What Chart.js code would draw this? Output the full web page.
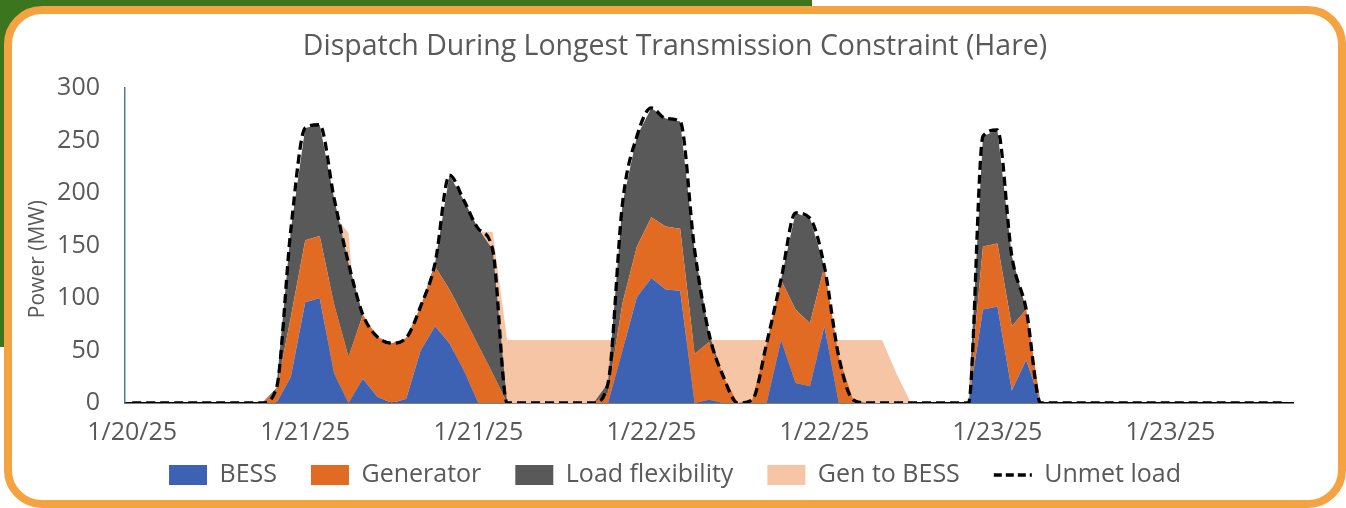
<!DOCTYPE html>
<html>
<head>
<meta charset="utf-8">
<title>Dispatch During Longest Transmission Constraint (Hare)</title>
<script src="https://cdn.jsdelivr.net/npm/chart.js@4.4.1/dist/chart.umd.min.js"></script>
<style>
    html, body { margin: 0; padding: 0; background: #fff; overflow: hidden; }
    body { width: 1346px; height: 508px; position: relative; }
    #green { position: absolute; left: 0; top: 0; width: 812px; height: 347px; background: #3b761f; }
    #slash { position: absolute; left: 604px; top: 6px; width: 74px; height: 5px; background: #f4a340; transform: rotate(16deg); transform-origin: 0 0; }
    #frame { position: absolute; left: 4px; top: 6px; width: 1342px; height: 502px; box-sizing: border-box;
             border: 8px solid #f4a340; border-radius: 38px; background: #fff; }
    #wrap { position: absolute; left: 0; top: 0; width: 1346px; height: 508px; }
</style>
</head>
<body>
<div id="green"></div>
<div id="slash"></div>
<div id="frame"></div>
<div id="wrap"><canvas id="dispatchChart"></canvas></div>

<script>
// hourly steps along the constraint window, label shown every 12 steps
const hours = Array.from({ length: 81 }, (_, i) => i);
const tickLabels = ['1/20/25', '1/21/25', '1/21/25', '1/22/25', '1/22/25', '1/23/25', '1/23/25'];
const tickEvery = 12;

const bess = [
    0, 0, 0, 0, 0, 0, 0, 0, 0, 0,
    0, 25, 96, 100, 28, 0, 23, 6, 0, 4,
    50, 73, 57, 31, 0, 0, 0, 0, 0, 0,
    0, 0, 0, 0, 50, 101, 119, 108, 107, 0,
    3, 0, 0, 0, 0, 60, 19, 16, 73, 0,
    0, 0, 0, 0, 0, 0, 0, 0, 0, 89,
    92, 12, 41, 0, 0, 0, 0, 0, 0, 0,
    0, 0, 0, 0, 0, 0, 0, 0, 0, 0,
    0
];
const generator = [
    0, 0, 0, 0, 0, 0, 0, 0, 0, 0,
    12, 57, 59, 59, 66, 44, 61, 57, 57, 58,
    42, 57, 51, 51, 55, 28, 0, 0, 0, 0,
    0, 0, 0, 10, 45, 48, 58, 60, 59, 47,
    55, 25, 0, 3, 57, 57, 70, 60, 57, 44,
    3, 0, 0, 0, 0, 0, 0, 0, 0, 60,
    60, 61, 48, 0, 0, 0, 0, 0, 0, 0,
    0, 0, 0, 0, 0, 0, 0, 0, 0, 0,
    0
];
const loadFlex = [
    0, 0, 0, 0, 0, 0, 0, 0, 0, 0,
    2, 83, 107, 106, 101, 89, 0, 0, 0, 0,
    0, 3, 109, 111, 111, 118, 0, 0, 0, 0,
    0, 0, 0, 9, 95, 105, 104, 103, 102, 99,
    8, 0, 0, 0, 0, 1, 92, 100, 0, 0,
    0, 0, 0, 0, 0, 0, 0, 0, 0, 105,
    108, 67, 0, 0, 0, 0, 0, 0, 0, 0,
    0, 0, 0, 0, 0, 0, 0, 0, 0, 0,
    0
];
const genToBess = [
    0, 0, 0, 0, 0, 0, 0, 0, 0, 0,
    0, 0, 0, 0, 179, 162, 0, 0, 0, 0,
    0, 0, 0, 163, 163, 163, 60, 60, 60, 60,
    60, 60, 60, 60, 60, 60, 60, 60, 60, 60,
    60, 60, 60, 60, 60, 60, 60, 60, 60, 60,
    60, 60, 60, 28, 0, 0, 0, 0, 0, 0,
    0, 0, 0, 0, 0, 0, 0, 0, 0, 0,
    0, 0, 0, 0, 0, 0, 0, 0, 0, 0,
    0
];
const unmetLoad = [
    0, 0, 0, 0, 0, 0, 0, 0, 0, 0,
    14, 165, 262, 265, 195, 133, 84, 63, 57, 62,
    92, 133, 217, 193, 166, 146, 0, 0, 0, 0,
    0, 0, 0, 19, 190, 254, 281, 271, 268, 146,
    66, 25, 0, 3, 57, 118, 181, 176, 130, 44,
    3, 0, 0, 0, 0, 0, 0, 0, 0, 254,
    260, 140, 89, 0, 0, 0, 0, 0, 0, 0,
    0, 0, 0, 0, 0, 0, 0, 0, 0, 0,
    0
];

Chart.defaults.font.family = "'Open Sans', sans-serif";
Chart.defaults.color = '#595959';

// order sets both stacking (low first) and paint order (high painted first)
function area(label, data, color, fill, stack, order) {
    return { label, data, backgroundColor: color, borderColor: color, borderWidth: 0,
             fill, stack, order, pointRadius: 0, pointHoverRadius: 0, tension: 0, pointStyle: 'rect' };
}

const ctx = document.getElementById('dispatchChart').getContext('2d');
new Chart(ctx, {
    type: 'line',
    data: {
        labels: hours,
        datasets: [
            area('BESS', bess, '#3d62b3', 'origin', 'dispatch', 1),
            area('Generator', generator, '#e26b24', '-1', 'dispatch', 2),
            area('Load flexibility', loadFlex, '#595959', '-1', 'dispatch', 3),
            area('Gen to BESS', genToBess, '#f6c5a6', 'origin', 'charge', 5),
            {
                label: 'Unmet load', data: unmetLoad, stack: 'unmet', order: 0,
                borderColor: '#000', backgroundColor: '#000', borderWidth: 3.3, borderDash: [9, 5],
                fill: false, pointRadius: 0, pointHoverRadius: 0, pointStyle: 'line',
                cubicInterpolationMode: 'monotone'
            }
        ]
    },
    options: {
        responsive: true,
        maintainAspectRatio: false,
        animation: false,
        layout: { padding: { left: 57, right: 53, top: 0, bottom: 10.5 } },
        plugins: {
            title: {
                display: true,
                text: 'Dispatch During Longest Transmission Constraint (Hare)',
                font: { size: 28.5, weight: 'normal' },
                color: '#595959',
                padding: { top: 30, bottom: 23.8 }
            },
            legend: {
                position: 'bottom',
                labels: {
                    usePointStyle: true,
                    pointStyleWidth: 38,
                    boxHeight: 20,
                    padding: 14.5,
                    font: { size: 25 },
                    color: '#595959',
                    sort: (a, b) => a.datasetIndex - b.datasetIndex,
                    generateLabels(chart) {
                        const items = Chart.defaults.plugins.legend.labels.generateLabels(chart);
                        items.forEach(it => {
                            if (it.datasetIndex === 4) {
                                it.lineDash = [8, 4];
                                it.lineWidth = 3.3;
                                it.strokeStyle = '#000';
                            } else {
                                it.lineWidth = 0;
                                it.text += '   ';
                            }
                        });
                        return items;
                    }
                }
            },
            tooltip: { enabled: false }
        },
        scales: {
            x: {
                type: 'category',
                offset: true,
                grid: { display: false, drawTicks: false },
                border: { display: true, color: '#000', width: 1.5 },
                ticks: {
                    autoSkip: false,
                    maxRotation: 0,
                    padding: 15,
                    font: { size: 25 },
                    callback: (v, i) => (i % tickEvery === 0 ? tickLabels[i / tickEvery] : '')
                },
                afterFit(scale) { scale.height = 45; }
            },
            y: {
                stacked: true,
                min: 0,
                max: 300,
                grid: { display: false, drawTicks: false },
                border: { display: true, color: '#4d7f8a', width: 1.5 },
                ticks: { stepSize: 50, padding: 25, font: { size: 25 } },
                title: { display: true, text: 'Power (MW)     ', font: { size: 21 }, padding: { top: -32, bottom: 0 } },
                afterFit(scale) { scale.width = 68; }
            }
        }
    }
});
</script>
</body>
</html>
